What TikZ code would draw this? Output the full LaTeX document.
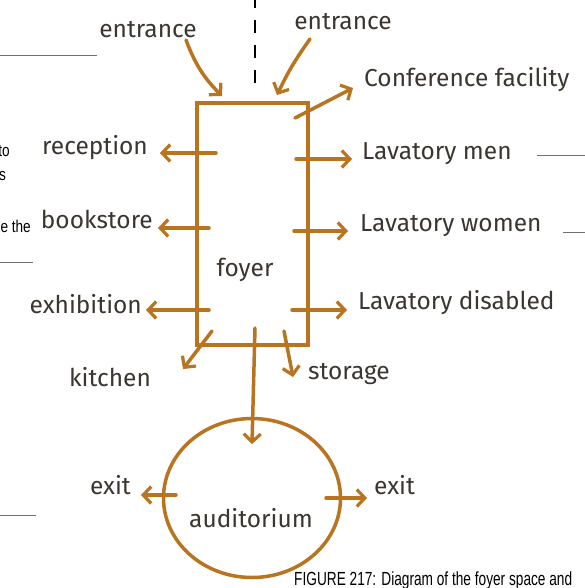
\documentclass[tikz,border=0pt]{standalone}
\usepackage{fontspec}
\setmainfont{Liberation Sans}
\newfontfamily\hand{Fira Sans}
\usetikzlibrary{arrows.meta,shapes.geometric}
\definecolor{brn}{HTML}{B8741F}
\definecolor{ink}{HTML}{3B3630}
\definecolor{rule}{HTML}{707070}
\begin{document}
\begin{tikzpicture}[x=1pt,y=-1pt,
  arr/.style={draw=brn,line width=3.5pt,line cap=round,
    -{Straight Barb[length=8pt,width=17pt,line width=3.2pt]}},
  lbl/.style={font=\hand\fontsize{24.5}{27}\selectfont,text=ink,inner sep=0pt},
  frag/.style={inner sep=0pt,text=black},
  grayrule/.style={draw=rule,line width=0.9pt},
  boxst/.style={draw=brn,line width=3.5pt,minimum width=111pt,minimum height=242pt,inner sep=0pt}]
\useasboundingbox (0,0) rectangle (585,588);
\clip (0,0) rectangle (585,588);
\fill[white] (0,0) rectangle (585,588);

% page fragments
\draw[grayrule] (0,55) -- (97,55);
\draw[grayrule] (0,262) -- (33,262);
\draw[grayrule] (0,515) -- (36,515);
\draw[grayrule] (537,155) -- (585,155);
\draw[grayrule] (563,232) -- (585,232);
\node[frag,anchor=base east] (f1) at (10,157) {\scalebox{0.8}[1]{\fontsize{17}{19}\selectfont to}};
\node[frag,anchor=base east] (f2) at (6,180) {\scalebox{0.8}[1]{\fontsize{17}{19}\selectfont s}};
\node[frag,anchor=base east] (f3) at (31,232) {\scalebox{0.8}[1]{\fontsize{17}{19}\selectfont e the}};
\node[frag,anchor=base west] (cap) at (294,585)
  {\scalebox{0.72}[1]{\fontsize{19}{21}\selectfont FIGURE 217: Diagram of the foyer space and}};

% dashed line
\draw[black,line width=2.4pt,dash pattern=on 13pt off 12pt] (255,-5) -- (255,92);

% foyer box
\node[boxst] (foyerbox) at (252.5,224) {};
\node[lbl] (foyer) at (245,270) {foyer};

% auditorium
\node[draw=brn,line width=3.5pt,ellipse,minimum width=177pt,minimum height=159pt,inner sep=0pt] (aud) at (252,498) {};
\node[lbl] (audt) at (251,518) {auditorium};

% labels
\node[lbl] (entL) at (148,30) {entrance};
\node[lbl] (entR) at (343,22) {entrance};
\node[lbl,anchor=mid west] (conf) at (364,84) {Conference facility};
\node[lbl,anchor=mid west] (lmen) at (362,157) {Lavatory men};
\node[lbl,anchor=mid west] (lwom) at (360,229) {Lavatory women};
\node[lbl,anchor=mid west] (ldis) at (358,307) {Lavatory disabled};
\node[lbl,anchor=mid west] (stor) at (308,377) {storage};
\node[lbl,anchor=mid east] (rec) at (148,152) {reception};
\node[lbl,anchor=mid east] (book) at (153,226) {bookstore};
\node[lbl,anchor=mid east] (exh) at (142,311) {exhibition};
\node[lbl] (kit) at (110,377) {kitchen};
\node[lbl,anchor=mid east] (exL) at (131,492) {exit};
\node[lbl,anchor=mid west] (exR) at (374,492) {exit};

% arrow end points
\coordinate (eLs) at (186,40);  \coordinate (eLe) at (222,96);
\coordinate (eRs) at (310,39);  \coordinate (eRe) at (277,95);
\coordinate (cfs) at (295,118); \coordinate (cfe) at (353,88);
\coordinate (lms) at (296,159); \coordinate (lme) at (352,159);
\coordinate (lws) at (294,231); \coordinate (lwe) at (348,231);
\coordinate (lds) at (292,310); \coordinate (lde) at (347,310);
\coordinate (sts) at (284,331); \coordinate (ste) at (293,377);
\coordinate (rcs) at (216,153); \coordinate (rce) at (160,153);
\coordinate (bks) at (209,228); \coordinate (bke) at (158,228);
\coordinate (exs) at (209,310); \coordinate (exe) at (146,310);
\coordinate (kts) at (212,331); \coordinate (kte) at (183,369);
\coordinate (dns) at (255,328); \coordinate (dne) at (252,444);
\coordinate (xls) at (176,495); \coordinate (xle) at (141,495);
\coordinate (xrs) at (326,498); \coordinate (xre) at (367,498);

\draw[arr] (eLs) to[bend right=12] (eLe);
\draw[arr] (eRs) to[bend right=5] (eRe);
\draw[arr] (cfs) -- (cfe);
\draw[arr] (lms) -- (lme);
\draw[arr] (lws) -- (lwe);
\draw[arr] (lds) -- (lde);
\draw[arr] (sts) -- (ste);
\draw[arr] (rcs) -- (rce);
\draw[arr] (bks) -- (bke);
\draw[arr] (exs) -- (exe);
\draw[arr] (kts) -- (kte);
\draw[arr] (dns) -- (dne);
\draw[arr] (xls) -- (xle);
\draw[arr] (xrs) -- (xre);
\end{tikzpicture}
\end{document}
